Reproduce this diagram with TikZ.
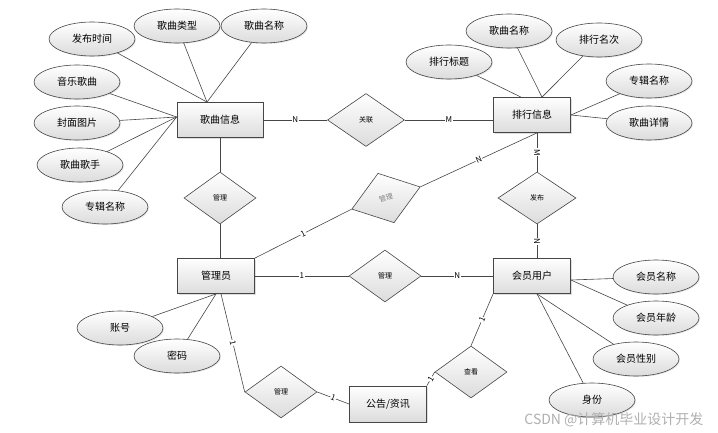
\documentclass[tikz,border=0pt]{standalone}
\usepackage{fontspec}
\setmainfont{Noto Sans CJK SC}
\usepackage{tikz}
\usetikzlibrary{shapes.geometric,shadows,positioning}
\definecolor{edgecol}{RGB}{70,70,70}
\definecolor{shadecol}{RGB}{220,220,220}
\definecolor{markcol}{RGB}{175,175,175}
\tikzstyle{entity}=[draw=edgecol, line width=0.8pt, top color=white, bottom color=shadecol, minimum width=77pt, minimum height=35pt, inner sep=0pt, drop shadow={shadow xshift=1.2pt, shadow yshift=-1.2pt, opacity=0.25}]
\tikzstyle{attr}=[ellipse, draw=edgecol, line width=0.6pt, top color=white, bottom color=shadecol, minimum width=86pt, minimum height=34pt, inner sep=0pt, drop shadow={shadow xshift=1pt, shadow yshift=-1pt, opacity=0.2}]
\tikzstyle{rel}=[diamond, draw=edgecol, line width=0.6pt, top color=white, bottom color=shadecol, minimum width=72pt, minimum height=52pt, inner sep=0pt, font=\fontsize{7}{7}\selectfont]
\tikzstyle{card}=[fill=white, inner sep=0.6pt, sloped, font=\fontsize{8}{8}\selectfont]
\tikzstyle{link}=[draw=edgecol, line width=0.6pt]

\begin{document}
\begin{tikzpicture}[x=1pt,y=-1pt,font=\fontsize{10}{10}\selectfont]
    \useasboundingbox (0,0) rectangle (718,433);
    % entities
    \node [entity, minimum width=86pt] (si) at (220,120) {歌曲信息};
    \node [entity] (ri) at (532,115) {排行信息};
    \node [entity] (ad) at (216,276) {管理员};
    \node [entity] (mb) at (532,276) {会员用户};
    \node [entity, minimum height=36pt] (nt) at (388,404) {公告/资讯};
    % relations
    \node [rel, minimum width=77pt, minimum height=53pt] (gl) at (366,120) {关联};
    \node [rel] (mg1) at (220,198) {管理};
    \node [rel, rotate=18, text=gray] (mg2) at (386,198) {管理};
    \node [rel, minimum width=78pt] (fb) at (537,198) {发布};
    \node [rel] (mg3) at (385,276) {管理};
    \node [rel] (mg4) at (281,392) {管理};
    \node [rel] (ck) at (471,372) {查看};
    % attributes of si
    \node [attr] (si1) at (92,39) {发布时间};
    \node [attr] (si2) at (177,26) {歌曲类型};
    \node [attr] (si3) at (264,26) {歌曲名称};
    \node [attr] (si4) at (77,82) {音乐歌曲};
    \node [attr] (si5) at (77,123) {封面图片};
    \node [attr] (si6) at (80,165) {歌曲歌手};
    \node [attr] (si7) at (105,207) {专辑名称};
    % attributes of ri
    \node [attr] (ri1) at (449,62) {排行标题};
    \node [attr] (ri2) at (509,31) {歌曲名称};
    \node [attr] (ri3) at (599,40) {排行名次};
    \node [attr] (ri4) at (649,81) {专辑名称};
    \node [attr] (ri5) at (649,123) {歌曲详情};
    % attributes of ad
    \node [attr] (ad1) at (120,328) {账号};
    \node [attr] (ad2) at (177,356) {密码};
    % attributes of mb
    \node [attr] (mb1) at (656,277) {会员名称};
    \node [attr] (mb2) at (656,318) {会员年龄};
    \node [attr] (mb3) at (636,359) {会员性别};
    \node [attr] (mb4) at (592,400) {身份};
    \coordinate (rb) at ([xshift=5pt]ri.south);
    \node [anchor=east, text=markcol, font=\fontsize{14}{14}\selectfont] (wm) at (707,420) {CSDN @计算机毕业设计开发};
    \path [link]
    (si1) edge ([xshift=-13pt]si.north)
    (si2) edge ([xshift=-13pt]si.north)
    (si3) edge ([xshift=-13pt]si.north)
    (si4) edge ([yshift=3pt]si.west)
    (si5) edge ([yshift=3pt]si.west)
    (si6) edge ([yshift=3pt]si.west)
    (si7) edge ([yshift=3pt]si.west)
    (ri1) edge ([xshift=-11pt]ri.north)
    (ri2) edge ([xshift=10pt]ri.north)
    (ri3) edge ([xshift=10pt]ri.north)
    (ri4) edge (ri.east)
    (ri5) edge (ri.east)
    (ad1) edge (ad.south)
    (ad2) edge (ad.south)
    (mb1) edge ([yshift=-4pt]mb.east)
    (mb2) edge ([yshift=-4pt]mb.east)
    (mb3) edge ([xshift=5pt]mb.south)
    (mb4) edge ([xshift=5pt]mb.south)
    (si.south) edge (mg1.north)
    (mg1.south) edge (mg1.south |- ad.north)
    (si.east) edge node[card] {N} (gl.west)
    (gl.east) edge node[card] {M} (gl.east -| ri.west)
    (rb) edge node[card] {M} (fb.north)
    (rb) edge node[card] {N} (mg2.east)
    (ad.north east) edge node[card] {1} (mg2.west)
    (fb.south) edge node[card] {N} (fb.south |- mb.north)
    (ad.east) edge node[card] {1} (mg3.west)
    (mg3.east) edge node[card] {N} (mb.west)
    ([xshift=5pt]ad.south) edge node[card] {1} (mg4.west)
    (mg4.east) edge node[card] {1} (nt.west)
    (mb.south west) edge node[card] {1} (ck.north)
    (ck.west) edge node[card] {1} (nt.north east);
\end{tikzpicture}
\end{document}
